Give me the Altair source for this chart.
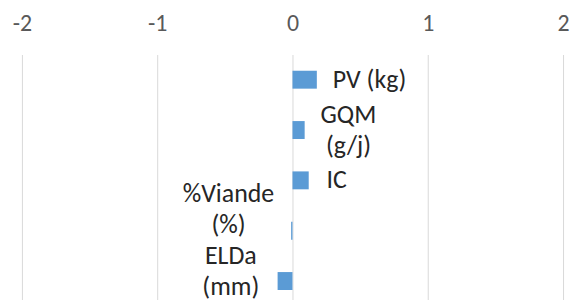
import altair as alt
import pandas as pd

categories = ["PV (kg)", "GQM (g/j)", "IC", "%Viande (%)", "ELDa (mm)"]
values = [0.18, 0.09, 0.12, -0.01, -0.11]
label_text = ["PV (kg)", "GQM\n(g/j)", "IC", "%Viande\n(%)", "ELDa\n(mm)"]
x_ticks = [-2, -1, 0, 1, 2]

df = pd.DataFrame({"cat": categories, "value": values, "label": label_text})

FONT = "Carlito, Lato, sans-serif"
FS = 26

x_enc = alt.X(
    "value:Q",
    scale=alt.Scale(domain=[-2, 2], nice=False, zero=False),
    axis=alt.Axis(
        orient="top", values=x_ticks, title=None, domain=False, ticks=False,
        grid=True, gridColor="#d9d9d9", gridWidth=1,
        labelExpr="datum.value + ''", labelFlush=False, labelOverlap=False,
        labelFont=FONT, labelFontSize=24, labelColor="#595959", labelPadding=18,
    ),
)
y_enc = alt.Y(
    "cat:N", sort=categories, axis=None,
    scale=alt.Scale(range=[1, 254], paddingInner=0.644, paddingOuter=0.322),
)

base = alt.Chart(df)
bars = base.mark_bar(color="#5B9BD5").encode(x=x_enc, y=y_enc)

# per-label placement style (align, dx, dy); dy of two-line labels includes half a line
label_style = {
    "PV (kg)": ("center", 53, 0),
    "GQM (g/j)": ("center", 44, -15),
    "IC": ("center", 28, 0),
    "%Viande (%)": ("center", -63, -37),
    "ELDa (mm)": ("center", -47, -25),
}

layers = [bars]
for cat in categories:
    align, dx, dy = label_style[cat]
    layers.append(
        base.transform_filter(alt.datum.cat == cat)
        .mark_text(
            align=align, baseline="middle", dx=dx, dy=dy, lineBreak="\n",
            lineHeight=31, font=FONT, fontSize=FS, color="#262626",
        )
        .encode(x=alt.X("value:Q"), y=alt.Y("cat:N", sort=categories), text="label:N")
    )

chart = (
    alt.layer(*layers)
    .properties(
        width=544, height=247,
        padding={"left": 14, "top": 45, "right": 8, "bottom": 0},
        autosize=alt.AutoSizeParams(type="none"),
    )
    .configure_view(stroke=None)
)

chart.save("out.html", embed_options={"renderer": "svg", "actions": False})
